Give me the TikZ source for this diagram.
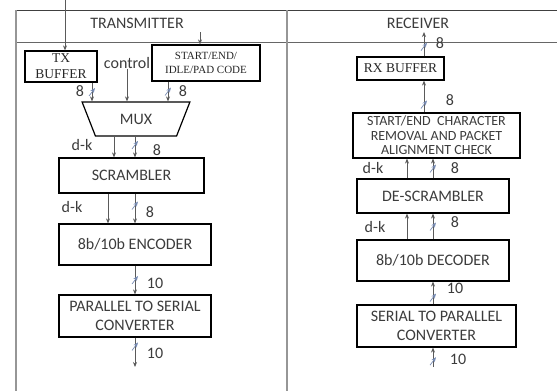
\documentclass[tikz,border=0pt]{standalone}
\usepackage{fontspec}
\setmainfont{Carlito}
\newfontfamily\tmsfont{Liberation Serif}
\usetikzlibrary{arrows.meta,shapes.geometric}
\definecolor{cText}{RGB}{60,60,60}
\definecolor{cLine}{RGB}{90,90,90}
\definecolor{cFrame}{RGB}{150,150,150}
\definecolor{cBus}{RGB}{120,140,180}
\tikzset{
  blk/.style={draw=black, line width=1.2pt, inner sep=0pt, align=center, text=cText,
    font=\fontsize{16}{19}\selectfont},
  sblk/.style={blk, text=black!85, font=\tmsfont\fontsize{13.5}{16}\selectfont},
  arr/.style={cLine, line width=0.8pt, -{Stealth[length=5pt,width=4pt]}},
  lbl/.style={text=cText, font=\fontsize{16}{18}\selectfont, inner sep=0pt},
  bus/.pic={\draw[cBus, line width=0.7pt] (-3,4) -- (3,-4);}
}
\begin{document}
\begin{tikzpicture}[x=1pt, y=-1pt]
  \useasboundingbox (0,0) rectangle (557,391);

  % ---- table frame ----
  \draw[black!75, line width=0.8pt] (16,10) -- (557,10);
  \draw[black!60, line width=0.8pt] (16,42) -- (557,42);
  \draw[cFrame, line width=1.5pt] (16,10) -- (16,391);
  \draw[cFrame, line width=1.5pt] (287,10) -- (287,391);

  \node[lbl] (ttx) at (137,23) {TRANSMITTER};
  \node[lbl] (trx) at (418,23) {RECEIVER};

  % ---- transmitter ----
  \node[sblk, minimum width=72pt, minimum height=31pt] (txbuf) at (61,66.5) {TX\\BUFFER};
  \node[sblk, minimum width=108pt, minimum height=36pt, font=\tmsfont\fontsize{11}{14}\selectfont]
    (code) at (206,63) {START/END/\\IDLE/PAD CODE};
  \node[lbl] (ctrl) at (127,63) {control};
  \node[blk, trapezium, shape border rotate=180, trapezium stretches=true, trapezium angle=63,
    minimum width=108pt, minimum height=34pt] (mux) at (136,119) {MUX};
  \node[blk, minimum width=145pt, minimum height=35pt] (scr) at (131.5,175.5) {SCRAMBLER};
  \node[blk, minimum width=152pt, minimum height=41pt] (enc) at (135,244.5) {8b/10b ENCODER};
  \node[blk, minimum width=152pt, minimum height=42pt] (ptos) at (135,316)
    {PARALLEL TO SERIAL\\CONVERTER};

  \coordinate (txin) at (65,0);
  \coordinate (codein) at (200,32);
  \coordinate (txout) at (135,367);
  \coordinate (la) at (92,0);
  \coordinate (lc) at (168,0);
  \coordinate (lm) at (114,0);
  \coordinate (ls) at (108,0);
  \coordinate (lt) at (135,0);

  \draw[arr] (txin) -- (txin |- txbuf.north);
  \draw[arr] (codein) -- (code.north -| codein);
  \draw[arr] (txbuf.south -| la) -- pic[pos=0.5]{bus} (mux.north -| la);
  \draw[arr] (ctrl.south) -- (ctrl.south |- mux.north);
  \draw[arr] (code.south -| lc) -- pic[pos=0.5]{bus} (mux.north -| lc);
  \draw[arr] (mux.south -| lm) -- (scr.north -| lm);
  \draw[arr] (mux.south -| lt) -- pic[pos=0.4]{bus} (scr.north -| lt);
  \draw[arr] (scr.south -| ls) -- (enc.north -| ls);
  \draw[arr] (scr.south -| lt) -- pic[pos=0.4]{bus} (enc.north -| lt);
  \draw[arr] (enc.south -| lt) -- pic[pos=0.5]{bus} (ptos.north -| lt);
  \draw[arr] (ptos.south -| lt) -- pic[pos=0.3]{bus} (txout);

  \node[lbl] (n1) at (80,91) {8};
  \node[lbl] (n2) at (183,91) {8};
  \node[lbl] (n3) at (82,145) {d-k};
  \node[lbl] (n4) at (157,150) {8};
  \node[lbl] (n5) at (72,207) {d-k};
  \node[lbl] (n6) at (150,212) {8};
  \node[lbl] (n7) at (155,283) {10};
  \node[lbl] (n8) at (155,353) {10};

  % ---- receiver ----
  \node[sblk, minimum width=87pt, minimum height=23pt] (rxbuf) at (400.5,68.5) {RX BUFFER};
  \node[blk, minimum width=167pt, minimum height=45pt, font=\fontsize{14}{14.5}\selectfont]
    (chk) at (436.5,135.5) {START/END~~CHARACTER\\REMOVAL AND PACKET\\ALIGNMENT CHECK};
  \node[blk, minimum width=152pt, minimum height=34pt] (dscr) at (433,196) {DE-SCRAMBLER};
  \node[blk, minimum width=152pt, minimum height=41pt] (dec) at (433,260.5) {8b/10b DECODER};
  \node[blk, minimum width=159pt, minimum height=42pt] (stop) at (436.5,326)
    {SERIAL TO PARALLEL\\CONVERTER};

  \coordinate (rxout) at (424,32);
  \coordinate (rxin) at (433,367);
  \coordinate (ra) at (424,0);
  \coordinate (rd) at (407,0);
  \coordinate (rb) at (433,0);

  \draw[arr] (rxbuf.north -| ra) -- pic[pos=0.4]{bus} (rxout);
  \draw[arr] (chk.north -| ra) -- pic[pos=0.25]{bus} (rxbuf.south -| ra);
  \draw[arr] (dscr.north -| rd) -- (chk.south -| rd);
  \draw[arr] (dscr.north -| rb) -- pic[pos=0.5]{bus} (chk.south -| rb);
  \draw[arr] (dec.north -| rd) -- (dscr.south -| rd);
  \draw[arr] (dec.north -| rb) -- pic[pos=0.5]{bus} (dscr.south -| rb);
  \draw[arr] (stop.north -| rb) -- pic[pos=0.3]{bus} (dec.south -| rb);
  \draw[arr] (rxin) -- pic[pos=0.3]{bus} (stop.south -| rxin);

  \node[lbl] (m1) at (440,43) {8};
  \node[lbl] (m2) at (450,100) {8};
  \node[lbl] (m3) at (373,168) {d-k};
  \node[lbl] (m4) at (455,168) {8};
  \node[lbl] (m5) at (375,227) {d-k};
  \node[lbl] (m6) at (455,222) {8};
  \node[lbl] (m7) at (455,288) {10};
  \node[lbl] (m8) at (458,359) {10};
\end{tikzpicture}
\end{document}
